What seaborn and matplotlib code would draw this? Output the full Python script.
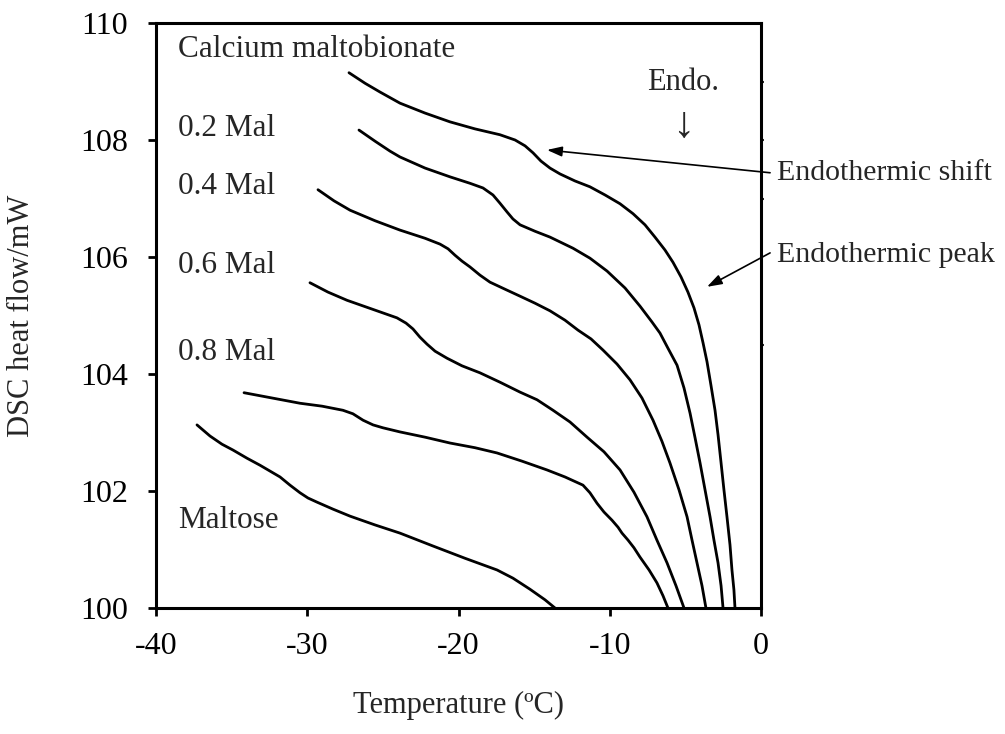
import matplotlib
matplotlib.use("Agg")
import matplotlib.pyplot as plt
import seaborn as sns
import pandas as pd

# ---- data ----
camb_T = [-27.24, -26.18, -25.19, -23.87, -22.21, -20.56, -18.91, -17.26, -16.26, -15.60,
          -15.07, -14.55, -13.95, -13.29, -12.30, -11.31, -10.31, -9.32, -8.46, -7.67,
          -7.01, -6.35, -5.82, -5.29, -4.83, -4.43, -4.10, -3.83, -3.57, -3.31,
          -3.04, -2.84, -2.64, -2.45, -2.25, -2.05, -1.92, -1.79, -1.72]
camb_Y = [109.15, 108.97, 108.82, 108.63, 108.46, 108.31, 108.19, 108.09, 108.00, 107.90,
          107.78, 107.64, 107.52, 107.42, 107.30, 107.20, 107.06, 106.91, 106.74, 106.55,
          106.34, 106.12, 105.91, 105.66, 105.40, 105.13, 104.84, 104.53, 104.21, 103.81,
          103.38, 102.96, 102.48, 102.02, 101.56, 101.08, 100.65, 100.31, 100.0]

mal02_T = [-26.58, -25.52, -24.53, -23.87, -22.21, -20.56, -19.24, -18.38, -17.72, -17.26,
           -16.79, -16.40, -15.93, -14.94, -13.95, -12.43, -11.31, -10.18, -8.99, -8.0,
           -7.21, -6.68, -6.15, -5.55, -5.09, -4.69, -4.36, -4.03, -3.70, -3.37,
           -3.11, -2.84, -2.64, -2.51]
mal02_Y = [108.17, 107.98, 107.81, 107.71, 107.52, 107.37, 107.26, 107.18, 107.06, 106.92,
           106.77, 106.65, 106.55, 106.44, 106.34, 106.15, 105.98, 105.76, 105.47, 105.16,
           104.89, 104.70, 104.44, 104.15, 103.76, 103.33, 102.91, 102.48, 102.02, 101.56,
           101.16, 100.77, 100.38, 100.0]

mal04_T = [-29.29, -28.23, -27.17, -25.52, -23.87, -22.21, -21.22, -20.69, -20.23, -19.77,
           -19.24, -18.58, -17.92, -16.93, -15.93, -14.94, -13.95, -12.96, -12.10, -11.24,
           -10.45, -9.52, -8.66, -7.87, -7.14, -6.55, -6.02, -5.42, -4.89, -4.56,
           -4.23, -3.90, -3.64]
mal04_Y = [107.15, 106.96, 106.80, 106.62, 106.46, 106.32, 106.22, 106.14, 106.03, 105.93,
           105.83, 105.69, 105.57, 105.45, 105.33, 105.21, 105.08, 104.92, 104.75, 104.60,
           104.41, 104.17, 103.90, 103.59, 103.21, 102.85, 102.48, 102.02, 101.56, 101.16,
           100.77, 100.38, 100.0]

mal06_T = [-29.82, -28.63, -27.37, -25.72, -24.07, -23.47, -23.01, -22.55, -22.08, -21.55,
           -20.76, -19.77, -18.58, -17.26, -15.93, -14.81, -13.75, -12.63, -11.50, -10.38,
           -9.32, -8.40, -7.54, -6.88, -6.21, -5.62, -5.09]
mal06_Y = [105.56, 105.40, 105.26, 105.11, 104.96, 104.87, 104.77, 104.63, 104.51, 104.39,
           104.27, 104.14, 104.02, 103.86, 103.69, 103.56, 103.38, 103.18, 102.92, 102.67,
           102.36, 101.98, 101.56, 101.16, 100.77, 100.38, 100.0]

mal08_T = [-34.18, -32.33, -30.48, -29.02, -27.64, -26.98, -26.31, -25.65, -24.99, -23.87,
           -22.21, -20.56, -18.91, -17.45, -15.80, -14.15, -12.96, -11.77, -11.31, -10.84,
           -10.38, -9.85, -9.45, -9.19, -8.79, -8.40, -8.0, -7.40, -6.88, -6.48, -6.15]
mal08_Y = [103.68, 103.59, 103.50, 103.45, 103.38, 103.32, 103.21, 103.13, 103.08, 103.01,
           102.92, 102.82, 102.74, 102.65, 102.51, 102.36, 102.24, 102.10, 101.97, 101.79,
           101.64, 101.50, 101.38, 101.28, 101.16, 101.03, 100.87, 100.65, 100.43, 100.21,
           100.0]

maltose_T = [-37.29, -36.43, -35.64, -34.91, -33.98, -33.12, -32.46, -31.80, -31.14, -30.48,
             -29.95, -29.36, -28.30, -27.17, -25.52, -23.87, -21.69, -19.57, -17.45, -16.40,
             -15.27, -14.28, -13.62]
maltose_Y = [103.13, 102.94, 102.80, 102.70, 102.56, 102.44, 102.34, 102.24, 102.10, 101.97,
             101.88, 101.81, 101.69, 101.57, 101.42, 101.28, 101.06, 100.85, 100.65, 100.51,
             100.32, 100.14, 100.0]

series = [
    ("Calcium maltobionate", camb_T, camb_Y),
    ("0.2 Mal", mal02_T, mal02_Y),
    ("0.4 Mal", mal04_T, mal04_Y),
    ("0.6 Mal", mal06_T, mal06_Y),
    ("0.8 Mal", mal08_T, mal08_Y),
    ("Maltose", maltose_T, maltose_Y),
]

label_text = ["Calcium maltobionate", "0.2 Mal", "0.4 Mal", "0.6 Mal", "0.8 Mal", "Maltose"]
label_T = [-38.55, -38.55, -38.55, -38.55, -38.55, -38.55]
label_Y = [109.54, 108.20, 107.20, 105.86, 104.36, 101.50]

x_ticks = [-40, -30, -20, -10, 0]
y_ticks = [100, 102, 104, 106, 108, 110]
right_ticks = [109, 108, 107, 104.5]

# ---- style ----
sns.set_style("ticks")
plt.rcParams["font.family"] = ["Liberation Serif", "DejaVu Serif"]

fig = plt.figure(figsize=(10.05, 7.34), dpi=100)
ax = fig.add_axes([156 / 1005, 1 - 608 / 734, (761 - 156) / 1005, (608 - 23) / 734])

for name, T, Y in series:
    df = pd.DataFrame({"T": T, "Y": Y})
    sns.lineplot(data=df, x="T", y="Y", ax=ax, color="black", lw=2.0,
                 sort=False, estimator=None, solid_joinstyle="round")

ax.set_xlim(-40, 0)
ax.set_ylim(100, 110)
ax.set_xticks(x_ticks)
ax.set_yticks(y_ticks)
ax.set_xticklabels([str(v) for v in x_ticks])
ax.set_yticklabels([str(v) for v in y_ticks])
ax.tick_params(axis="both", direction="out", length=6, width=2, labelsize=23,
               colors="black")
ax.tick_params(axis="x", pad=11)
ax.tick_params(axis="y", pad=14)
for s in ax.spines.values():
    s.set_linewidth(2.2)
    s.set_color("black")
    s.set_visible(True)

sec = ax.secondary_yaxis("right")
sec.set_yticks(right_ticks)
sec.set_yticklabels([])
sec.tick_params(direction="out", length=2.5, width=1.5)

ax.set_xlabel("Temperature (ºC)", fontsize=22, labelpad=22)
ax.set_ylabel("DSC heat flow/mW", fontsize=22, labelpad=32)

for t, x, y in zip(label_text, label_T, label_Y):
    ax.text(x, y, t, fontsize=22.5, ha="left", va="center")

ax.text(-5.16, 108.99, "Endo.", fontsize=22, ha="center", va="center")
ax.text(-5.16, 108.24, "↓", fontsize=32, ha="center", va="center")

arrow = dict(arrowstyle="-|>,head_length=0.9,head_width=0.3", color="black", lw=1.2,
             shrinkA=0, shrinkB=0)
ax.annotate("", xy=(-14.15, 107.83), xytext=(0.6, 107.44), arrowprops=arrow,
            annotation_clip=False)
ax.annotate("", xy=(-3.57, 105.49), xytext=(0.6, 106.07), arrowprops=arrow,
            annotation_clip=False)
ax.text(1.06, 107.44, "Endothermic shift", fontsize=21.5, ha="left", va="center",
        clip_on=False)
ax.text(1.06, 106.03, "Endothermic peak", fontsize=21.5, ha="left", va="center",
        clip_on=False)

fig.savefig("out.png", dpi=100)
